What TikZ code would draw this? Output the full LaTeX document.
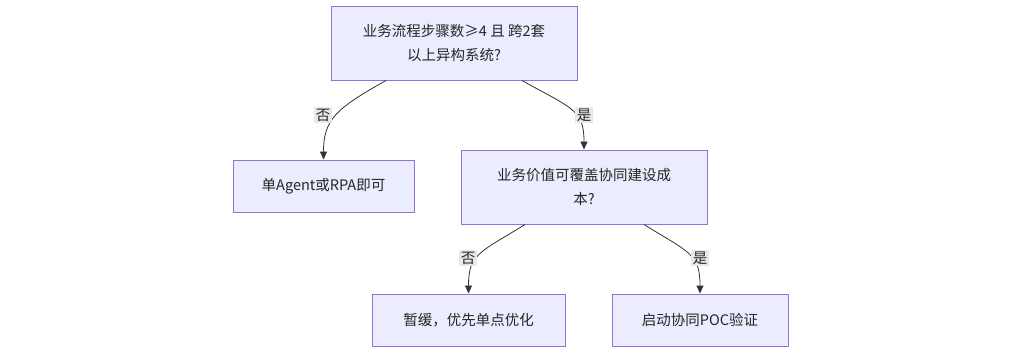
\documentclass[tikz,border=0pt]{standalone}
\usepackage{fontspec}
\setmainfont{Noto Sans CJK SC}
\usetikzlibrary{arrows.meta,calc}
\definecolor{boxfill}{HTML}{ECECFF}
\definecolor{boxdraw}{HTML}{9370DB}
\definecolor{edgecol}{HTML}{333333}
\definecolor{lblbg}{HTML}{E8E8E8}
\begin{document}
\begin{tikzpicture}[x=1pt,y=-1pt,
  flowbox/.style={draw=boxdraw,fill=boxfill,line width=1pt,align=center,inner sep=0pt,
    font=\fontsize{14.5pt}{24pt}\selectfont,text=black!85},
  edge/.style={draw=edgecol,line width=0.8pt,-{Triangle[length=8pt,width=7pt]}},
  elabel/.style={fill=lblbg,inner sep=1.5pt,font=\fontsize{14.5pt}{16pt}\selectfont,text=black!85}]
\useasboundingbox (0,0) rectangle (1024,351);
\node[flowbox,minimum width=246pt,minimum height=74pt] (top) at (454,43)
  {业务流程步骤数≥4 且 跨2套\\以上异构系统?};
\node[flowbox,minimum width=181pt,minimum height=52pt] (left) at (323.5,186)
  {单Agent或RPA即可};
\node[flowbox,minimum width=246pt,minimum height=74pt] (mid) at (584,187)
  {业务价值可覆盖协同建设成\\本?};
\node[flowbox,minimum width=193pt,minimum height=52pt] (bl) at (468.5,320)
  {暂缓，优先单点优化};
\node[flowbox,minimum width=176pt,minimum height=52pt] (br) at (700,320)
  {启动协同POC验证};
% edges
\draw[edge] ([xshift=-68pt]top.south) .. controls ($([xshift=-68pt]top.south)+(-50,28)$) and ($(left.north)+(0,-40)$) .. (left.north);
\draw[edge] ([xshift=68pt]top.south) .. controls ($([xshift=68pt]top.south)+(50,28)$) and ($(mid.north)+(0,-40)$) .. (mid.north);
\draw[edge] ([xshift=-59pt]mid.south) .. controls ($([xshift=-59pt]mid.south)+(-45,28)$) and ($(bl.north)+(0,-40)$) .. (bl.north);
\draw[edge] ([xshift=60pt]mid.south) .. controls ($([xshift=60pt]mid.south)+(45,28)$) and ($(br.north)+(0,-40)$) .. (br.north);
% labels
\node[elabel] (l1) at (323,115) {否};
\node[elabel] (l2) at (584,115) {是};
\node[elabel] (l3) at (468,258) {否};
\node[elabel] (l4) at (700,258) {是};
\end{tikzpicture}
\end{document}
